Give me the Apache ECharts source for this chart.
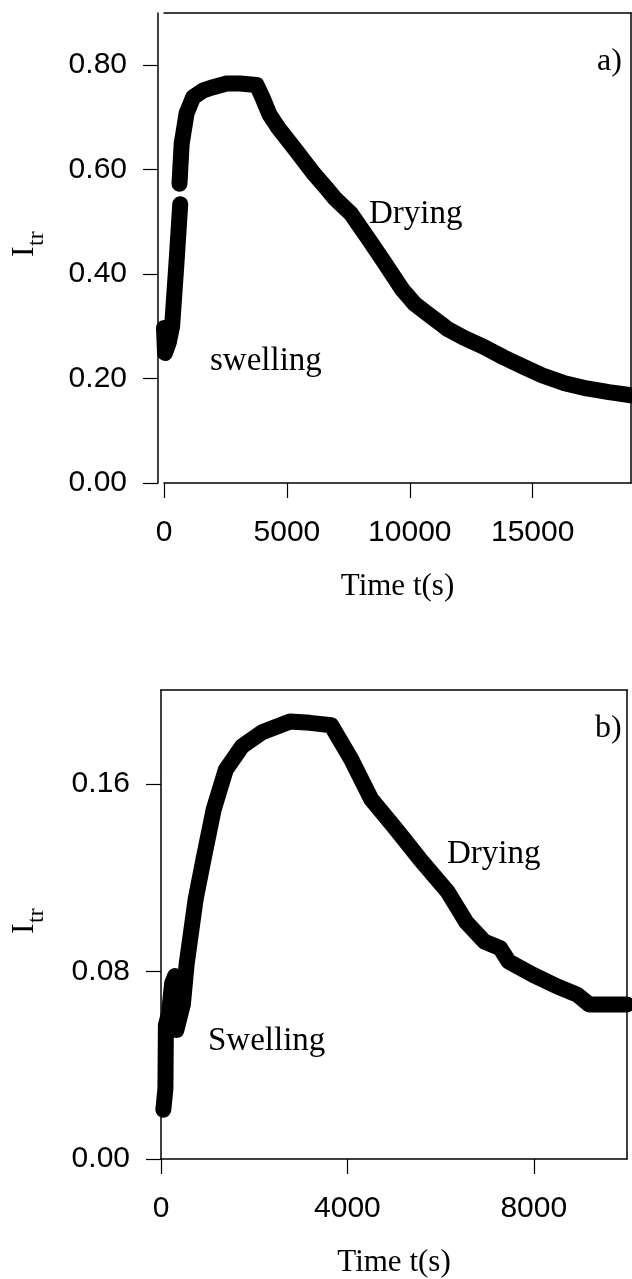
<!DOCTYPE html>
<html>
<head>
<meta charset="utf-8">
<script src="https://cdn.jsdelivr.net/npm/echarts@6/dist/echarts.min.js"></script>
<style>
html,body{margin:0;padding:0;background:#fff;}
#chart{width:632px;height:1279px;}
</style>
</head>
<body>
<div id="chart"></div>
<script>
// ---- data (time in s, transmitted intensity I_tr) ----
// panel a) swelling start (segment before the small gap)
const topT1 = [0, 40, 200, 330, 520, 660];
const topV1 = [0.297, 0.249, 0.27, 0.30, 0.43, 0.534];
// panel a) rest of swelling + drying
const topT2 = [630, 720, 920, 1190, 1600, 2000, 2550, 3090, 3770, 3990, 4300, 4650, 5400, 6100, 6600, 6950, 7600, 8250, 8900, 9700, 10200, 10700, 11200, 11350, 11500, 12200, 13000, 13800, 14600, 15400, 16300, 17200, 18100, 19000];
const topV2 = [0.573, 0.65, 0.708, 0.739, 0.752, 0.758, 0.765, 0.765, 0.762, 0.740, 0.705, 0.680, 0.635, 0.592, 0.565, 0.545, 0.516, 0.472, 0.427, 0.370, 0.343, 0.325, 0.307, 0.302, 0.296, 0.278, 0.261, 0.241, 0.223, 0.206, 0.191, 0.181, 0.174, 0.168];
// panel b)
const botT = [50, 95, 105, 170, 240, 300, 330, 470, 550, 745, 914, 1130, 1390, 1740, 2170, 2770, 3200, 3650, 4080, 4510, 5030, 5550, 6150, 6550, 6940, 7280, 7460, 7980, 8500, 8930, 9190, 10000];
const botV = [0.021, 0.030, 0.057, 0.062, 0.075, 0.078, 0.055, 0.066, 0.083, 0.111, 0.128, 0.149, 0.166, 0.176, 0.182, 0.1866, 0.186, 0.185, 0.1705, 0.1535, 0.141, 0.128, 0.114, 0.101, 0.0927, 0.0899, 0.0842, 0.0786, 0.0736, 0.0701, 0.0659, 0.0659];

// ---- ticks ----
const topXTicks = [0, 5000, 10000, 15000];
const topYTicks = [0, 0.2, 0.4, 0.6, 0.8];
const botXTicks = [0, 4000, 8000];
const botYTicks = [0, 0.08, 0.16];

// ---- texts ----
const xTitle = 'Time t(s)';
const yTitleMain = 'I';
const yTitleSub = 'tr';
const panelA = 'a)';
const panelB = 'b)';
const dryingText = 'Drying';
const swellA = 'swelling';
const swellB = 'Swelling';

const pair = (ts, vs) => ts.map((t, i) => [t, vs[i]]);

const SANS = "'Liberation Sans', Arial, sans-serif";
const SERIF = "'Liberation Serif', 'Times New Roman', serif";
const BLACK = '#000';

function mainX(grid, max, interval, ticks) {
  return {
    gridIndex: grid, type: 'value', min: 0, max: max, interval: interval,
    axisLine: {show: true, onZero: false, lineStyle: {color: BLACK, width: 1.5}},
    axisTick: {show: true, inside: false, length: 15, customValues: ticks, lineStyle: {color: BLACK, width: 1.2}},
    axisLabel: {show: true, customValues: ticks, margin: 35, fontSize: 30, fontFamily: SANS, color: BLACK,
      formatter: v => String(v)},
    splitLine: {show: false},
    name: xTitle, nameLocation: 'middle', nameGap: 88,
    nameTextStyle: {fontFamily: SERIF, fontSize: 31, color: BLACK}
  };
}
function boxX(grid) {
  return {
    gridIndex: grid, type: 'value', position: 'top', min: 0, max: 1,
    axisLine: {show: true, onZero: false, lineStyle: {color: BLACK, width: 1.5}},
    axisTick: {show: false}, axisLabel: {show: false}, splitLine: {show: false}
  };
}
function mainY(grid, max, interval, ticks, offset) {
  return {
    gridIndex: grid, type: 'value', min: 0, max: max, interval: interval, offset: offset,
    axisLine: {show: true, onZero: false, lineStyle: {color: BLACK, width: 1.5}},
    axisTick: {show: true, inside: false, length: 15, customValues: ticks, lineStyle: {color: BLACK, width: 1.2}},
    axisLabel: {show: true, customValues: ticks, margin: 31, fontSize: 30, fontFamily: SANS, color: BLACK,
      formatter: v => v.toFixed(2)},
    splitLine: {show: false}
  };
}
function boxY(grid) {
  return {
    gridIndex: grid, type: 'value', position: 'right', min: 0, max: 1,
    axisLine: {show: true, onZero: false, lineStyle: {color: BLACK, width: 1.5}},
    axisTick: {show: false}, axisLabel: {show: false}, splitLine: {show: false}
  };
}
function curve(data, xi, yi) {
  return {
    type: 'line', xAxisIndex: xi, yAxisIndex: yi, data: data,
    showSymbol: false, symbol: 'none', clip: false, silent: true,
    lineStyle: {color: BLACK, width: 16, cap: 'round', join: 'round'}
  };
}
function label(text, x, y, size) {
  return {
    type: 'text', x: x, y: y, silent: true,
    style: {text: text, font: size + 'px ' + SERIF, fill: BLACK,
      align: 'left', verticalAlign: 'middle', textAlign: 'left', textVerticalAlign: 'middle'}
  };
}
function yTitle(x, y) {
  return {
    type: 'group', x: x, y: y, rotation: Math.PI / 2, silent: true,
    children: [
      {type: 'text', x: 0, y: -11, style: {text: yTitleMain, font: '32px ' + SERIF, fill: BLACK,
        align: 'left', verticalAlign: 'middle', textAlign: 'left', textVerticalAlign: 'middle'}},
      {type: 'text', x: 11, y: 1, style: {text: yTitleSub, font: '24px ' + SERIF, fill: BLACK,
        align: 'left', verticalAlign: 'middle', textAlign: 'left', textVerticalAlign: 'middle'}}
    ]
  };
}

const chart = echarts.init(document.getElementById('chart'), null, {renderer: 'canvas'});
chart.setOption({
  animation: false,
  backgroundColor: '#fff',
  grid: [
    {left: 164, right: 1, top: 13, bottom: 796},
    {left: 161, right: 5, top: 690, bottom: 117}
  ],
  xAxis: [
    mainX(0, 19000, 5000, topXTicks),
    boxX(0),
    mainX(1, 10000, 4000, botXTicks),
    boxX(1)
  ],
  yAxis: [
    mainY(0, 0.9, 0.2, topYTicks, 6),
    boxY(0),
    mainY(1, 0.2, 0.08, botYTicks, 0),
    boxY(1)
  ],
  series: [
    curve(pair(topT1, topV1), 0, 0),
    curve(pair(topT2, topV2), 0, 0),
    curve(pair(botT, botV), 2, 2)
  ],
  graphic: [
    label(panelA, 597, 62, 32),
    label(dryingText, 369, 214, 33),
    label(swellA, 210, 361, 33),
    label(panelB, 595, 729, 32),
    label(dryingText, 447, 854, 33),
    label(swellB, 208, 1041, 33),
    yTitle(36, 257),
    yTitle(36, 934)
  ]
});
</script>
</body>
</html>
